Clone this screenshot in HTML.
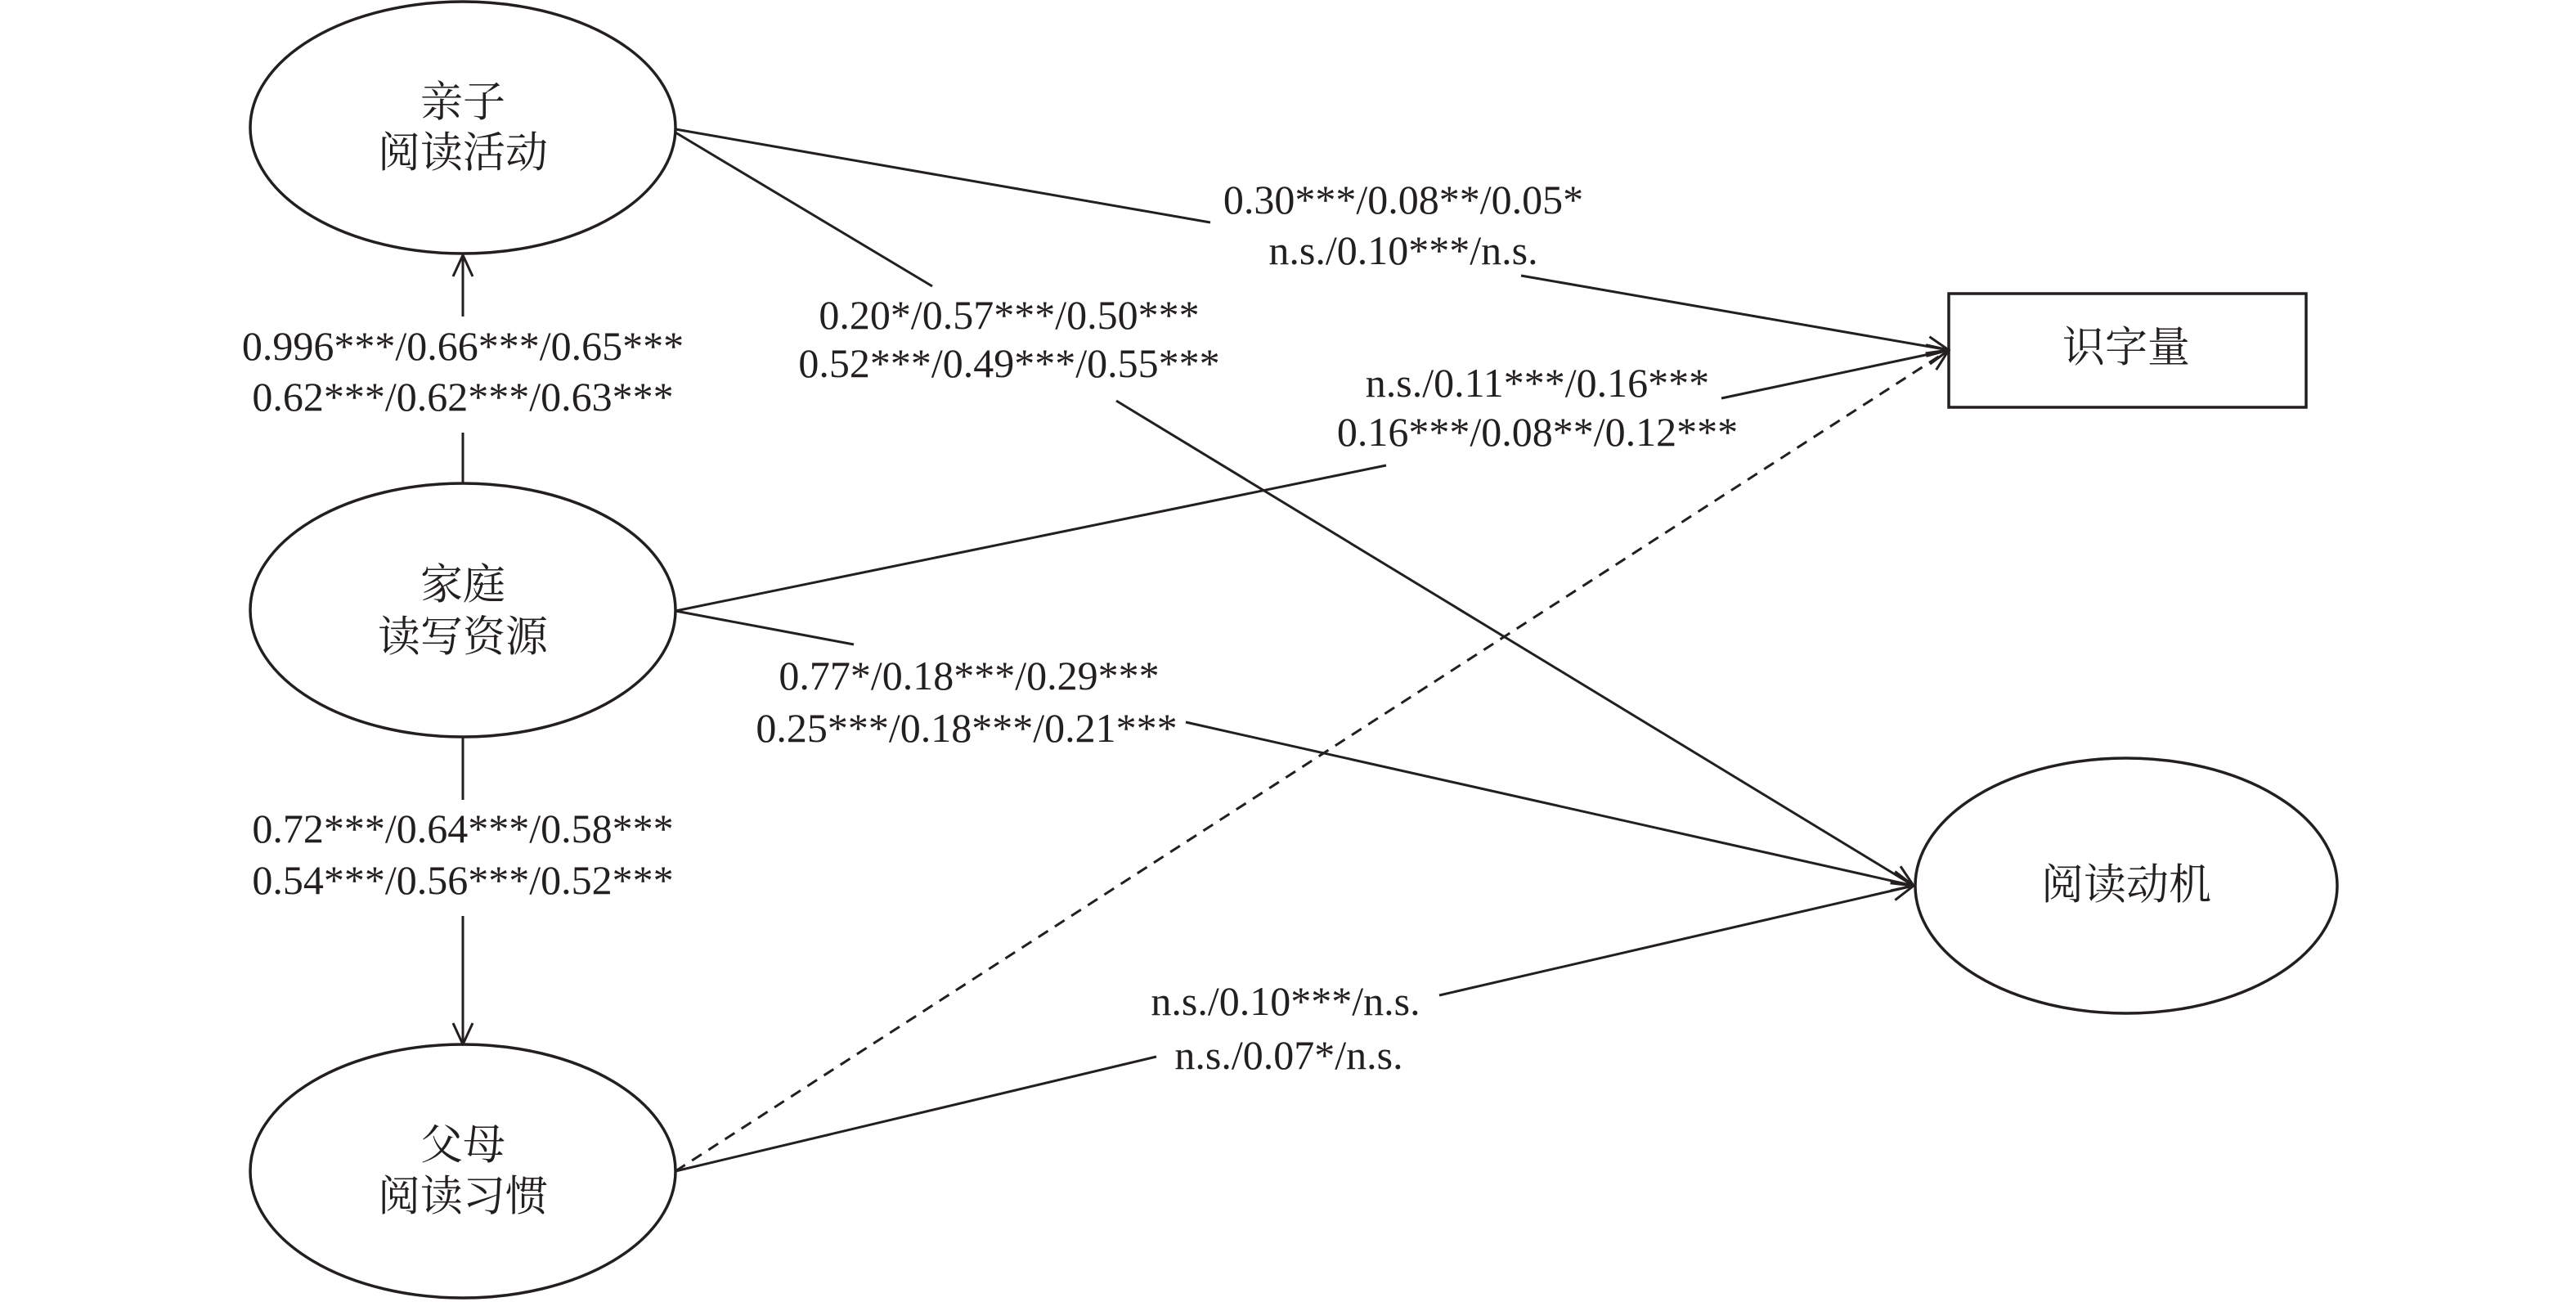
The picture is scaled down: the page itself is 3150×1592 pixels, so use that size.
<!DOCTYPE html>
<html><head><meta charset="utf-8"><style>
html,body{margin:0;padding:0;background:#fff;}
svg{display:block}
text{font-family:"Liberation Serif","Noto Serif CJK SC",serif;fill:#231f20;}
.n{font-size:50px;text-anchor:middle;dominant-baseline:central;}
.c{font-size:52px;text-anchor:middle;dominant-baseline:central;font-family:"Liberation Serif","Noto Serif CJK SC","Noto Sans CJK SC",serif;}
</style></head><body>
<svg width="3150" height="1592" viewBox="0 0 3150 1592" xmlns="http://www.w3.org/2000/svg">
<defs>
<marker id="a" markerWidth="30" markerHeight="30" refX="28" refY="15" orient="auto" markerUnits="userSpaceOnUse">
<path d="M2,3 L28,15 L2,27" fill="none" stroke="#231f20" stroke-width="3"/>
</marker>
</defs>
<g fill="none" stroke="#231f20" stroke-width="3.5">
<ellipse cx="566" cy="156" rx="260" ry="154"/>
<ellipse cx="566" cy="746" rx="260" ry="155"/>
<ellipse cx="566" cy="1432" rx="260" ry="155"/>
<rect x="2383" y="359" width="437" height="139"/>
<ellipse cx="2600" cy="1083" rx="258" ry="156"/>
</g>
<g fill="none" stroke="#231f20" stroke-width="3">
<line x1="566" y1="387" x2="566" y2="312" marker-end="url(#a)"/>
<line x1="566" y1="529" x2="566" y2="591"/>
<line x1="566" y1="902" x2="566" y2="978"/>
<line x1="566" y1="1120" x2="566" y2="1277" marker-end="url(#a)"/>
<line x1="826" y1="158" x2="1480" y2="272"/>
<line x1="1860" y1="337" x2="2383" y2="428" marker-end="url(#a)"/>
<line x1="826" y1="162" x2="1140" y2="350"/>
<line x1="1365" y1="490" x2="2340" y2="1083" marker-end="url(#a)"/>
<line x1="826" y1="747" x2="1695" y2="569"/>
<line x1="2105" y1="487" x2="2383" y2="428" marker-end="url(#a)"/>
<line x1="826" y1="747" x2="1044" y2="788"/>
<line x1="1450" y1="883" x2="2340" y2="1083" marker-end="url(#a)"/>
<line x1="826" y1="1432" x2="1414" y2="1292"/>
<line x1="1760" y1="1217" x2="2340" y2="1083" marker-end="url(#a)"/>
<line x1="826" y1="1432" x2="2383" y2="428" stroke-dasharray="14,10" marker-end="url(#a)"/>
</g>
<text class="c" x="566" y="126">亲子</text>
<text class="c" x="566" y="188">阅读活动</text>
<text class="c" x="566" y="716">家庭</text>
<text class="c" x="566" y="780">读写资源</text>
<text class="c" x="566" y="1401">父母</text>
<text class="c" x="566" y="1464">阅读习惯</text>
<text class="c" x="2600" y="426">识字量</text>
<text class="c" x="2600" y="1083">阅读动机</text>
<text class="n" x="566" y="423">0.996***/0.66***/0.65***</text>
<text class="n" x="566" y="485">0.62***/0.62***/0.63***</text>
<text class="n" x="566" y="1013">0.72***/0.64***/0.58***</text>
<text class="n" x="566" y="1076">0.54***/0.56***/0.52***</text>
<text class="n" x="1234" y="385">0.20*/0.57***/0.50***</text>
<text class="n" x="1234" y="444">0.52***/0.49***/0.55***</text>
<text class="n" x="1716" y="244">0.30***/0.08**/0.05*</text>
<text class="n" x="1716" y="306">n.s./0.10***/n.s.</text>
<text class="n" x="1880" y="468">n.s./0.11***/0.16***</text>
<text class="n" x="1880" y="528">0.16***/0.08**/0.12***</text>
<text class="n" x="1185" y="826">0.77*/0.18***/0.29***</text>
<text class="n" x="1182" y="890">0.25***/0.18***/0.21***</text>
<text class="n" x="1572" y="1224">n.s./0.10***/n.s.</text>
<text class="n" x="1576" y="1290">n.s./0.07*/n.s.</text>
</svg>
</body></html>
